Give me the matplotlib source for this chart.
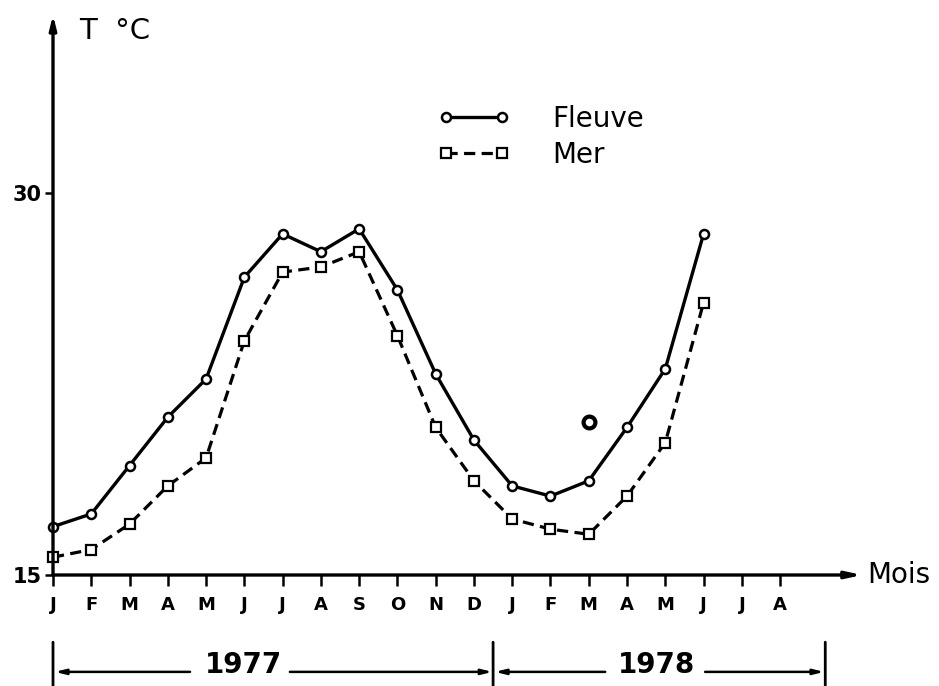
import matplotlib
matplotlib.use('Agg')
import matplotlib.pyplot as plt

plt.rcParams['font.family'] = ['DejaVu Sans']

# month labels from Jan 1977 to Aug 1978
months = ['J', 'F', 'M', 'A', 'M', 'J', 'J', 'A', 'S', 'O', 'N', 'D',
          'J', 'F', 'M', 'A', 'M', 'J', 'J', 'A']

# temperatures (deg C), Jan 1977 .. Jun 1978
fleuve = [16.9, 17.4, 19.3, 21.2, 22.7, 26.7, 28.4, 27.7, 28.6, 26.2, 22.9, 20.3,
          18.5, 18.1, 18.7, 20.8, 23.1, 28.4]
mer = [15.7, 16.0, 17.0, 18.5, 19.6, 24.2, 26.9, 27.1, 27.7, 24.4, 20.8, 18.7,
       17.2, 16.8, 16.6, 18.1, 20.2, 25.7]

# isolated reading, March 1978
extra_x = [14]
extra_y = [21.0]

years = ['1977', '1978']

fig = plt.figure(figsize=(9.39, 6.86), dpi=100)
ax = fig.add_axes([53 / 939, 111 / 686, 809 / 939, 560 / 686])
ax.set_xlim(0, 21.14)
ax.set_ylim(15, 37.0)

x = list(range(len(fleuve)))
ax.plot(x, fleuve, color='black', lw=2.4, marker='o', ms=6.5, mfc='white',
        mec='black', mew=1.8, label='Fleuve', clip_on=False, zorder=3)
ax.plot(x, mer, color='black', lw=2.3, ls=(0, (3.5, 2.0)), marker='s', ms=7,
        mfc='white', mec='black', mew=1.6, label='Mer', clip_on=False, zorder=3)
ax.plot(extra_x, extra_y, ls='none', marker='o', ms=8.5, mfc='white', mec='black',
        mew=3.0, zorder=3)

for s in ax.spines.values():
    s.set_visible(False)

# axes with arrows
ax.annotate('', xy=(0, 1.0), xytext=(0, 0), xycoords='axes fraction',
            arrowprops=dict(arrowstyle='-|>,head_length=0.8,head_width=0.2',
                            color='black', lw=2.4, shrinkA=0, shrinkB=0))
ax.annotate('', xy=(1.0, 0), xytext=(0, 0), xycoords='axes fraction',
            arrowprops=dict(arrowstyle='-|>,head_length=0.9,head_width=0.2',
                            color='black', lw=2.4, shrinkA=0, shrinkB=0))

ax.set_xticks(range(len(months)))
ax.set_xticklabels(months, fontsize=13, fontweight='bold')
ax.tick_params(axis='x', direction='out', length=8, width=1.8, pad=7)
ax.set_yticks([15, 30])
ax.set_yticklabels(['15', '30'], fontsize=15, fontweight='bold')
ax.tick_params(axis='y', direction='out', length=6, width=1.8, pad=2)

ax.text(0.032, 0.972, 'T  °C', transform=ax.transAxes, fontsize=21,
        ha='left', va='center')
ax.text(1.007, 0.0, 'Mois', transform=ax.transAxes, fontsize=20,
        ha='left', va='center', clip_on=False)

ax.legend(loc='upper left', bbox_to_anchor=(0.462, 0.86), frameon=False,
          numpoints=2, handlelength=2.6, fontsize=20, handletextpad=1.5,
          labelspacing=0.29, borderaxespad=0)

# year brackets under the month axis
yb = -0.173
trans = ('data', 'axes fraction')
for xb, y0 in [(0.0, -0.12), (11.5, -0.12), (20.18, -0.12)]:
    ax.annotate('', xy=(xb, -0.2), xytext=(xb, y0), xycoords=trans,
                arrowprops=dict(arrowstyle='-', color='black', lw=2.0,
                                shrinkA=0, shrinkB=0), annotation_clip=False)

segments = [(3.58, 0.05), (6.19, 11.48), (14.43, 11.55), (17.04, 20.15)]
for xs, xe in segments:
    ax.annotate('', xy=(xe, yb), xytext=(xs, yb), xycoords=trans,
                arrowprops=dict(arrowstyle='-|>,head_length=0.6,head_width=0.15',
                                color='black', lw=1.8, shrinkA=0, shrinkB=0),
                annotation_clip=False)

for xt, label in zip([4.97, 15.76], years):
    ax.annotate(label, xy=(xt, -0.161), xycoords=trans, fontsize=20,
                fontweight='bold', ha='center', va='center',
                annotation_clip=False)

fig.savefig('out.png', dpi=100)
